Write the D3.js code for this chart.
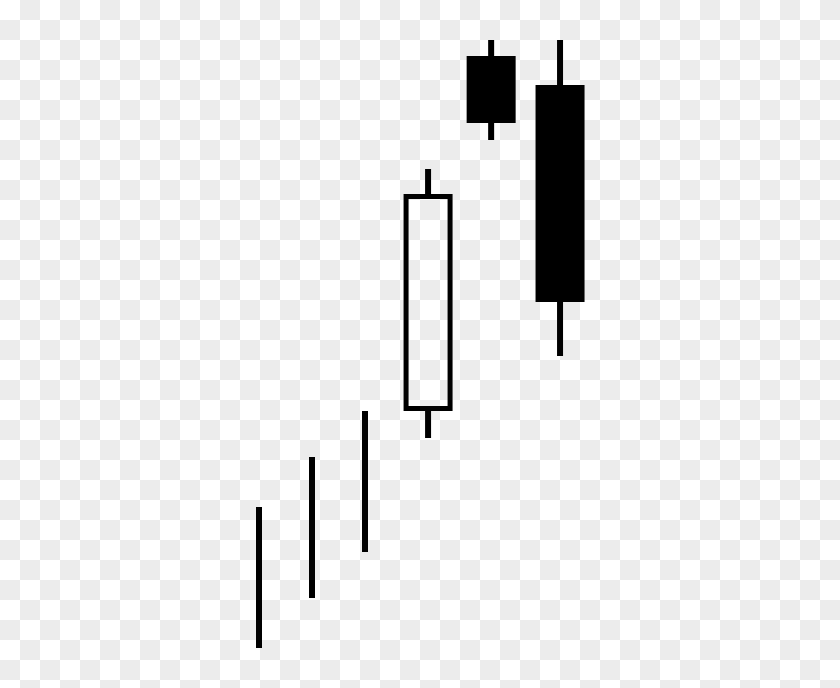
<!DOCTYPE html>
<html><head><meta charset="utf-8">
<script src="https://cdn.jsdelivr.net/npm/d3@7/dist/d3.min.js"></script>
<style>html,body{margin:0;padding:0;background:#fff;}svg{display:block;}</style>
</head><body>
<script>
// Candle time positions (arbitrary units) and prices (arbitrary units)
const times = [1, 2, 3, 4.19, 5.38, 6.68];
const highs = [181, 231, 277, 519, 648, 648];
const lows  = [40, 90, 136, 250, 548, 332];
const opens = [null, null, null, 279.5, 632, 603];
const closes= [null, null, null, 491.5, 565, 386];

const W = 840, H = 688;
const svg = d3.select("body").append("svg").attr("width", W).attr("height", H);

// checkerboard (transparent background look)
const defs = svg.append("defs");
const pat = defs.append("pattern").attr("id","chk").attr("width",40).attr("height",40).attr("patternUnits","userSpaceOnUse");
pat.append("rect").attr("width",40).attr("height",40).attr("fill","#ffffff");
pat.append("rect").attr("x",20).attr("y",0).attr("width",20).attr("height",20).attr("fill","#ececec");
pat.append("rect").attr("x",0).attr("y",20).attr("width",20).attr("height",20).attr("fill","#ececec");
svg.append("rect").attr("width",W).attr("height",H).attr("fill","url(#chk)");

const x = d3.scaleLinear().domain([1, 2]).range([259, 312]);
const y = d3.scaleLinear().domain([0, 688]).range([688, 0]);

const data = times.map((t,i)=>({t, h:highs[i], l:lows[i], o:opens[i], c:closes[i]}));
const bodyW = 49, wickW = 6, stroke = 5;

const g = svg.append("g");
data.forEach(d => {
  const cx = x(d.t);
  if (d.o == null) {
    g.append("line").attr("x1",cx).attr("x2",cx).attr("y1",y(d.h)).attr("y2",y(d.l))
      .attr("stroke","#000").attr("stroke-width",wickW);
    return;
  }
  const top = y(Math.max(d.o,d.c)), bot = y(Math.min(d.o,d.c));
  const up = d.c > d.o;
  if (up) {
    const inset = stroke/2;
    g.append("line").attr("x1",cx).attr("x2",cx).attr("y1",y(d.h)).attr("y2",top - inset)
      .attr("stroke","#000").attr("stroke-width",wickW);
    g.append("line").attr("x1",cx).attr("x2",cx).attr("y1",bot + inset).attr("y2",y(d.l))
      .attr("stroke","#000").attr("stroke-width",wickW);
    g.append("rect").attr("x",cx - bodyW/2 + inset).attr("y",top)
      .attr("width",bodyW - stroke).attr("height",bot-top)
      .attr("fill","none").attr("stroke","#000").attr("stroke-width",stroke);
  } else {
    g.append("line").attr("x1",cx).attr("x2",cx).attr("y1",y(d.h)).attr("y2",y(d.l))
      .attr("stroke","#000").attr("stroke-width",wickW);
    g.append("rect").attr("x",cx - bodyW/2).attr("y",top)
      .attr("width",bodyW).attr("height",bot-top).attr("fill","#000");
  }
});
</script>
</body></html>
